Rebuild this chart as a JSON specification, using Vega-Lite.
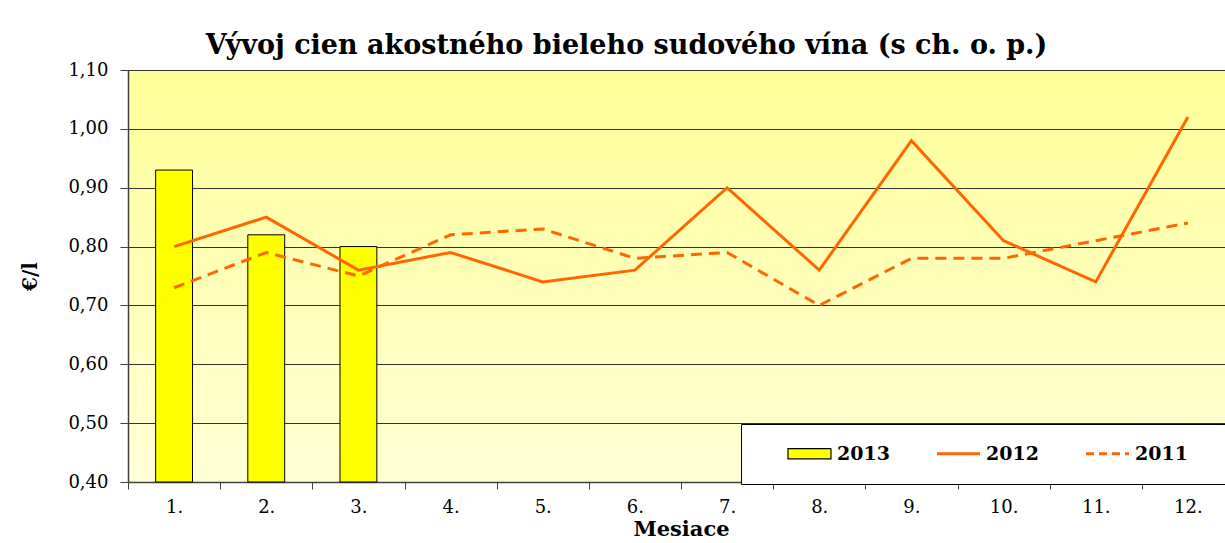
{
  "$schema": "https://vega.github.io/schema/vega-lite/v6.json",
  "width": 1097,
  "height": 412,
  "autosize": {"type": "none"},
  "padding": {"left": 128, "top": 70, "right": 0, "bottom": 61},
  "background": "white",
  "title": {
    "text": "Vývoj cien akostného bieleho sudového vína (s ch. o. p.)",
    "font": "DejaVu Serif",
    "fontSize": 27,
    "fontWeight": "bold",
    "color": "black",
    "anchor": "middle",
    "frame": "group",
    "dx": -50,
    "dy": 38,
    "baseline": "alphabetic",
    "offset": 18
  },
  "config": {
    "view": {
      "stroke": null,
      "fill": {
        "gradient": "linear",
        "x1": 0, "y1": 0, "x2": 0, "y2": 1,
        "stops": [
          {"offset": 0, "color": "#FFFF99"},
          {"offset": 1, "color": "#FFFFD6"}
        ]
      }
    },
    "axis": {"labelColor": "black", "titleColor": "black"}
  },
  "data": {
    "values": [
      {"month": "1.", "series": "2013", "value": 0.93},
      {"month": "2.", "series": "2013", "value": 0.82},
      {"month": "3.", "series": "2013", "value": 0.80},
      {"month": "1.", "series": "2012", "value": 0.80},
      {"month": "2.", "series": "2012", "value": 0.85},
      {"month": "3.", "series": "2012", "value": 0.76},
      {"month": "4.", "series": "2012", "value": 0.79},
      {"month": "5.", "series": "2012", "value": 0.74},
      {"month": "6.", "series": "2012", "value": 0.76},
      {"month": "7.", "series": "2012", "value": 0.90},
      {"month": "8.", "series": "2012", "value": 0.76},
      {"month": "9.", "series": "2012", "value": 0.98},
      {"month": "10.", "series": "2012", "value": 0.81},
      {"month": "11.", "series": "2012", "value": 0.74},
      {"month": "12.", "series": "2012", "value": 1.02},
      {"month": "1.", "series": "2011", "value": 0.73},
      {"month": "2.", "series": "2011", "value": 0.79},
      {"month": "3.", "series": "2011", "value": 0.75},
      {"month": "4.", "series": "2011", "value": 0.82},
      {"month": "5.", "series": "2011", "value": 0.83},
      {"month": "6.", "series": "2011", "value": 0.78},
      {"month": "7.", "series": "2011", "value": 0.79},
      {"month": "8.", "series": "2011", "value": 0.70},
      {"month": "9.", "series": "2011", "value": 0.78},
      {"month": "10.", "series": "2011", "value": 0.78},
      {"month": "11.", "series": "2011", "value": 0.81},
      {"month": "12.", "series": "2011", "value": 0.84}
    ]
  },
  "encoding": {
    "x": {
      "field": "month",
      "type": "ordinal",
      "scale": {
        "domain": ["1.", "2.", "3.", "4.", "5.", "6.", "7.", "8.", "9.", "10.", "11.", "12."],
        "range": [0, 1106],
        "paddingInner": 0,
        "paddingOuter": 0
      },
      "axis": {
        "title": "Mesiace",
        "titleFont": "DejaVu Serif",
        "titleFontWeight": "bold",
        "titleFontSize": 21,
        "titleColor": "black",
        "titleY": 53,
        "titleBaseline": "alphabetic",
        "labelAngle": 0,
        "labelFont": "DejaVu Serif",
        "labelFontSize": 18,
        "labelColor": "black",
        "labelPadding": 9,
        "tickSize": 7,
        "tickBand": "extent",
        "tickColor": "#404040",
        "domainColor": "#404040",
        "domainWidth": 1.5,
        "grid": false
      }
    },
    "y": {
      "field": "value",
      "type": "quantitative",
      "scale": {"domain": [0.4, 1.1], "zero": false, "nice": false},
      "axis": {
        "title": "€/l",
        "titleFont": "DejaVu Serif",
        "titleFontWeight": "bold",
        "titleFontSize": 20,
        "titleColor": "black",
        "titleX": -98,
        "titleY": 206,
        "titleAngle": -90,
        "titleAlign": "center",
        "titleBaseline": "middle",
        "values": [0.4, 0.5, 0.6, 0.7, 0.8, 0.9, 1.0, 1.1],
        "labelExpr": "replace(format(datum.value, '.2f'), '.', ',')",
        "labelFont": "DejaVu Serif",
        "labelFontSize": 18,
        "labelColor": "black",
        "labelPadding": 12,
        "tickSize": 8,
        "tickColor": "#404040",
        "domainColor": "#404040",
        "domainWidth": 1.5,
        "grid": true,
        "gridColor": "#333333",
        "gridWidth": 1
      }
    }
  },
  "layer": [
    {
      "transform": [{"filter": "datum.series === '2013'"}],
      "mark": {"type": "bar", "width": {"band": 0.4}, "fill": "#FFFF00", "stroke": "black", "strokeWidth": 1, "opacity": 1},
      "encoding": {"y2": {"datum": 0.4}}
    },
    {
      "encoding": {
        "stroke": {
          "field": "series",
          "type": "nominal",
          "scale": {"domain": ["2013", "2012", "2011", "\u00a0"], "range": ["#000000", "#FF6600", "#FF6600", "transparent"]},
          "legend": {
            "orient": "none",
            "legendX": 613,
            "legendY": 354,
            "direction": "horizontal",
            "columns": 4,
            "title": "\u00a0",
            "titleOrient": "left",
            "titlePadding": 39,
            "titleFontSize": 19,
            "padding": 20,
            "fillColor": "white",
            "strokeColor": "black",
            "symbolType": "stroke",
            "symbolSize": 1849,
            "symbolStrokeWidth": 3,
            "symbolOpacity": 1,
            "labelOffset": 18,
            "columnPadding": 41,
            "labelFont": "DejaVu Serif",
            "labelFontWeight": "bold",
            "labelFontSize": 19,
            "labelColor": "black",
            "labelLimit": 0,
            "encode": {
              "symbols": {
                "update": {
                  "shape": {"signal": "datum.value === '2013' ? 'M-1,-0.24H1V0.24H-1Z' : 'stroke'"},
                  "fill": {"signal": "datum.value === '2013' ? '#FFFF00' : 'transparent'"},
                  "strokeWidth": {"signal": "datum.value === '2013' ? 1.2 : 3"},
                  "strokeDash": {"signal": "datum.value === '2011' ? [8, 5] : [1, 0]"},
                  "opacity": {"value": 1}
                }
              }
            }
          }
        }
      },
      "layer": [
        {
          "transform": [{"filter": "datum.series === '2011'"}],
          "mark": {"type": "line", "strokeWidth": 3, "strokeDash": [11, 7], "strokeCap": "butt"}
        },
        {
          "transform": [{"filter": "datum.series === '2012'"}],
          "mark": {"type": "line", "strokeWidth": 3, "strokeCap": "butt"}
        }
      ]
    }
  ]
}
